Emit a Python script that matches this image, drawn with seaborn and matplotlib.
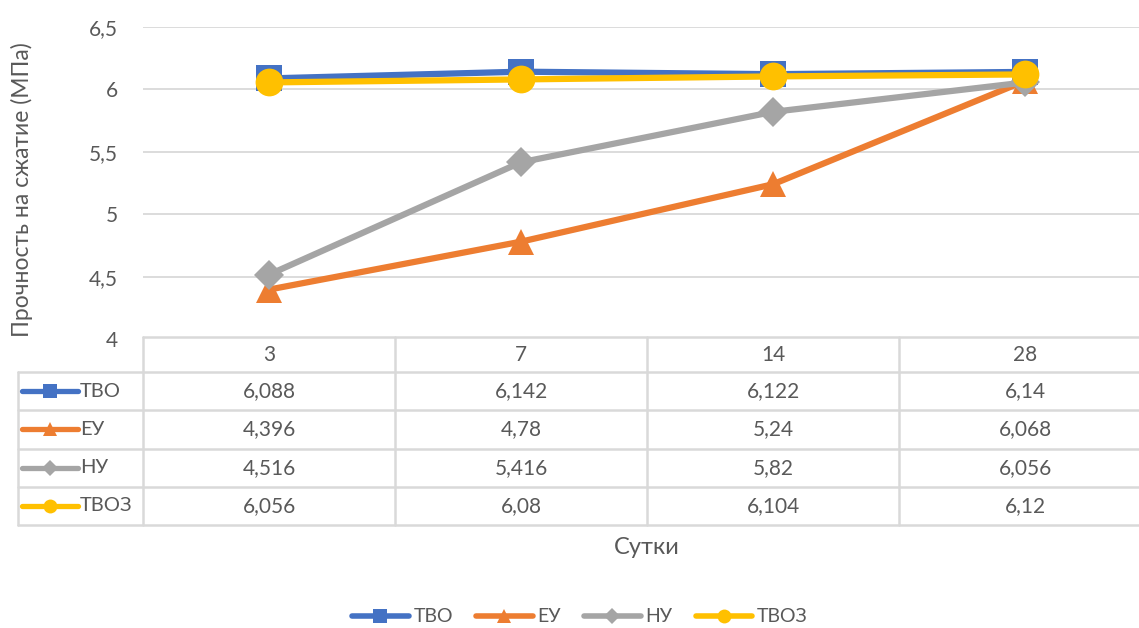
import matplotlib
matplotlib.use("Agg")
import matplotlib.pyplot as plt
from matplotlib.lines import Line2D
import seaborn as sns
import pandas as pd

# Curing age (days) and compressive strength of each mix
days = ["3", "7", "14", "28"]
series_names = ["ТВО", "ЕУ", "НУ", "ТВОЗ"]
tvo = [6.088, 6.142, 6.122, 6.14]
eu = [4.396, 4.78, 5.24, 6.068]
nu = [4.516, 5.416, 5.82, 6.056]
tvoz = [6.056, 6.08, 6.104, 6.12]
y_ticks = [4, 4.5, 5, 5.5, 6, 6.5]

colors = {"ТВО": "#4472C4", "ЕУ": "#ED7D31", "НУ": "#A5A5A5", "ТВОЗ": "#FFC000"}
markers = {"ТВО": "s", "ЕУ": "^", "НУ": "D", "ТВОЗ": "o"}
msizes = {"ТВО": 19, "ЕУ": 19, "НУ": 15, "ТВОЗ": 20}
text_color = "#595959"
grid_color = "#D9D9D9"

sns.set_theme(style="white")
plt.rcParams["font.family"] = ["Lato", "DejaVu Sans"]
plt.rcParams["text.color"] = text_color

values = {"ТВО": tvo, "ЕУ": eu, "НУ": nu, "ТВОЗ": tvoz}
rows = []
for name in series_names:
    for i, v in enumerate(values[name]):
        rows.append({"series": name, "pos": i, "value": v})
df = pd.DataFrame(rows)

W, H = 1139, 628
fig = plt.figure(figsize=(W / 100, H / 100), dpi=100)

# main plotting area (pixel box converted to figure fractions)
left_px, right_px, top_px, bottom_px = 143, 1151, 27, 339
ax = fig.add_axes([left_px / W, 1 - bottom_px / H,
                   (right_px - left_px) / W, (bottom_px - top_px) / H])

for name in series_names:
    sub = df[df["series"] == name]
    sns.lineplot(data=sub, x="pos", y="value", ax=ax, color=colors[name],
                 marker=markers[name], markersize=msizes[name], mew=0,
                 lw=4.5, legend=False, zorder=3)

ax.set_xlim(-0.5, len(days) - 0.5)
ax.set_ylim(4, 6.5)
ax.set_yticks(y_ticks)
ax.set_yticklabels([f"{t:g}".replace(".", ",") for t in y_ticks])
ax.set_xticks([])
ax.set_xlabel("")
ax.set_ylabel("")
ax.tick_params(axis="y", length=0, pad=18, labelsize=15, labelcolor=text_color)
for t in y_ticks[1:]:
    ax.axhline(t, color=grid_color, lw=1.3, zorder=1)
for s in ax.spines.values():
    s.set_visible(False)
ax.set_facecolor("none")

fig.text(22 / W, 1 - 190 / H, "Прочность на сжатие (МПа)", rotation=90,
         ha="center", va="center", fontsize=16.5, color=text_color)

# data table under the plot
tab_left_px, tab_top_px, tab_bottom_px = 18, 337, 525
tax = fig.add_axes([tab_left_px / W, 1 - tab_bottom_px / H,
                    (right_px - tab_left_px) / W, (tab_bottom_px - tab_top_px) / H])
col_w = right_px - left_px
x0 = -0.5 - (left_px - tab_left_px) / (col_w / len(days))
tax.set_xlim(x0, len(days) - 0.5)
header_h = 0.92
n_rows = len(series_names)
total_h = header_h + n_rows
tax.set_ylim(total_h, 0)
tax.axis("off")

lw_b = 1.8
xr = len(days) - 0.5
tax.plot([-0.5, xr], [0, 0], color=grid_color, lw=lw_b, clip_on=False)
for r in range(n_rows + 1):
    y = header_h + r
    tax.plot([x0, xr], [y, y], color=grid_color, lw=lw_b, clip_on=False)
tax.plot([x0, x0], [header_h, total_h], color=grid_color, lw=lw_b, clip_on=False)
for c in range(len(days) + 1):
    xc = -0.5 + c
    tax.plot([xc, xc], [0, total_h], color=grid_color, lw=lw_b, clip_on=False)

for i, d in enumerate(days):
    tax.text(i, header_h / 2, d, ha="center", va="center", fontsize=15, color=text_color)

px_unit = 1 / (col_w / len(days))
def px_to_x(px):
    return -0.5 + (px - left_px) * px_unit

key_msizes = {"ТВО": 10, "ЕУ": 10, "НУ": 8, "ТВОЗ": 10}
for r, name in enumerate(series_names):
    yc = header_h + r + 0.5
    tax.plot([px_to_x(22), px_to_x(78)], [yc, yc], color=colors[name], lw=3.8,
             solid_capstyle="round", clip_on=False)
    tax.plot([px_to_x(50)], [yc], marker=markers[name], color=colors[name],
             markersize=key_msizes[name], mew=0, clip_on=False)
    tax.text(px_to_x(80), yc, name, ha="left", va="center", fontsize=14.5, color=text_color)
    for i, v in enumerate(values[name]):
        tax.text(i, yc, f"{v:g}".replace(".", ","), ha="center", va="center",
                 fontsize=15, color=text_color)

fig.text(647 / W, 1 - 548 / H, "Сутки", ha="center", va="center",
         fontsize=17, color=text_color)

handles = [Line2D([0], [0], color=colors[n], lw=4, marker=markers[n],
                  markersize=key_msizes[n], mew=0, solid_capstyle="round")
           for n in series_names]
fig.legend(handles, series_names, loc="center", bbox_to_anchor=(580 / W, 1 - 617 / H),
           ncol=4, frameon=False, fontsize=14, handlelength=2.9,
           handletextpad=0.25, columnspacing=1.2, labelcolor=text_color)

fig.savefig("out.png", dpi=100)
